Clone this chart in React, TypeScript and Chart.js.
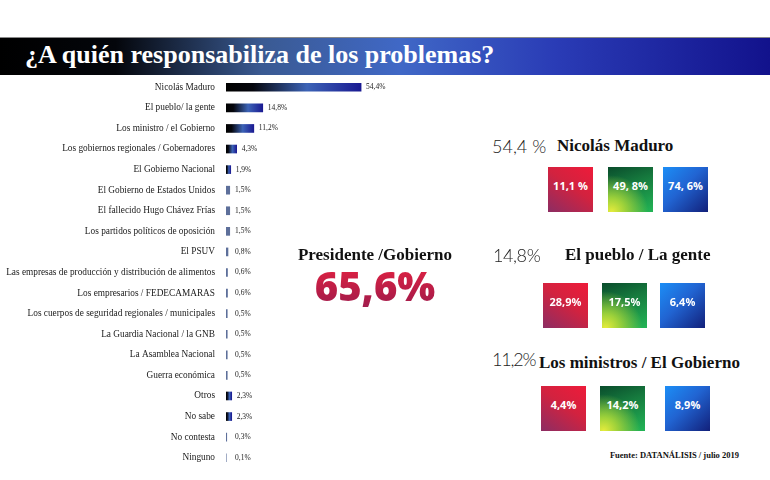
import React, { useEffect, useRef } from "react";
import Chart from "chart.js/auto";

const categories = [
  "Nicolás Maduro",
  "El pueblo/ la gente",
  "Los ministro / el Gobierno",
  "Los gobiernos regionales / Gobernadores",
  "El Gobierno Nacional",
  "El Gobierno de Estados Unidos",
  "El fallecido Hugo Chávez Frías",
  "Los partidos políticos de oposición",
  "El PSUV",
  "Las empresas de producción y distribución de alimentos",
  "Los empresarios / FEDECAMARAS",
  "Los cuerpos de seguridad regionales / municipales",
  "La Guardia Nacional / la GNB",
  "La Asamblea Nacional",
  "Guerra económica",
  "Otros",
  "No sabe",
  "No contesta",
  "Ninguno",
];

const values = [54.4, 14.8, 11.2, 4.3, 1.9, 1.5, 1.5, 1.5, 0.8, 0.6, 0.6, 0.5, 0.5, 0.5, 0.5, 2.3, 2.3, 0.3, 0.1];

const valueLabels = values.map((v) => v.toFixed(1).replace(".", ",") + "%");

const title = "¿A quién responsabiliza de los problemas?";
const centerTitle = "Presidente /Gobierno";
const centerValue = "65,6%";
const source = "Fuente: DATANÁLISIS / julio 2019";

const panelTotals = ["54,4 %", "14,8%", "11,2%"];
const panelTitles = ["Nicolás Maduro", "El pueblo / La gente", "Los ministros / El Gobierno"];
const panelRed = ["11,1 %", "28,9%", "4,4%"];
const panelGreen = ["49, 8%", "17,5%", "14,2%"];
const panelBlue = ["74, 6%", "6,4%", "8,9%"];

const panelLayout = [
  { totalX: 492, totalY: 147, totalSpacing: 0, titleX: 557, titleY: 146, boxTop: 167, boxX: [548, 608, 663] },
  { totalX: 493, totalY: 256, totalSpacing: -0.4, titleX: 565, titleY: 255, boxTop: 283, boxX: [543, 602, 660] },
  { totalX: 492, totalY: 360, totalSpacing: -1.2, titleX: 539, titleY: 363, boxTop: 386, boxX: [541, 600, 665] },
];

const boxBackgrounds = [
  "linear-gradient(215deg, #ee1b3a 0%, #d2223f 45%, #8c2d63 100%)",
  "radial-gradient(circle at 8% 100%, #e6ec3c 0%, #9fd23a 22%, rgba(50,175,80,0) 60%), linear-gradient(160deg, #0a4c2c 0%, #167a3e 40%, #22b556 100%)",
  "linear-gradient(135deg, #1c8ef6 0%, #2164d2 45%, #12207a 100%)",
];

function barColor(ctx: any) {
  const chart = ctx.chart;
  const x = chart.scales && chart.scales.x;
  if (!chart.chartArea || !x) return "#1b2a8f";
  const v = ctx.raw as number;
  const x0 = x.getPixelForValue(0);
  const x1 = x.getPixelForValue(v);
  if (x1 - x0 < 4) return "#5d6f9a";
  const g = chart.ctx.createLinearGradient(x0, 0, x1, 0);
  g.addColorStop(0, "#000000");
  g.addColorStop(0.2, "#05060d");
  g.addColorStop(0.6, "#3c63b6");
  g.addColorStop(1, "#1a1a92");
  return g;
}

export default function App() {
  const ref = useRef<HTMLCanvasElement>(null);

  useEffect(() => {
    document.body.style.margin = "0";
    const canvas = ref.current!;
    const labelPlugin = {
      id: "valueLabels",
      afterDatasetsDraw(chart: any) {
        const { ctx, chartArea } = chart;
        const meta = chart.getDatasetMeta(0);
        ctx.save();
        ctx.font = "7.5px 'Liberation Serif'";
        ctx.fillStyle = "#222";
        ctx.textBaseline = "middle";
        ctx.textAlign = "left";
        meta.data.forEach((bar: any, i: number) => {
          const xx = Math.max(bar.x + 5, chartArea.left + 9);
          ctx.fillText(valueLabels[i], xx, bar.y);
        });
        ctx.restore();
      },
    };
    const chart = new Chart(canvas, {
      type: "bar",
      data: {
        labels: categories,
        datasets: [{ data: values, backgroundColor: barColor as any, barThickness: 8, borderWidth: 0 }],
      },
      options: {
        indexAxis: "y",
        responsive: false,
        animation: false,
        layout: { padding: { top: 77, bottom: 12, left: 0, right: 45 } },
        plugins: { legend: { display: false }, tooltip: { enabled: false } },
        scales: {
          x: { display: false, min: 0, max: 60 },
          y: {
            grid: { display: false, drawTicks: false },
            border: { display: false },
            ticks: {
              autoSkip: false,
              padding: 11,
              color: "#1a1a1a",
              font: { family: "'Liberation Serif'", size: 9.3 },
            },
            afterFit: (s: any) => {
              s.width = 226;
              s.paddingTop = 0;
              s.paddingBottom = 0;
            },
          },
        },
      },
      plugins: [labelPlugin],
    } as any);
    return () => chart.destroy();
  }, []);

  const abs = (o: any) => ({ position: "absolute" as const, whiteSpace: "nowrap" as const, ...o });

  return (
    <div style={{ position: "absolute", left: 0, top: 0, width: 770, height: 480, background: "#fff", overflow: "hidden" }}>
      <canvas ref={ref} width={420} height={480} style={abs({ left: 0, top: 0, width: 420, height: 480 })} />
      <div style={abs({ left: 0, top: 37, width: 770, height: 1, background: "#8a8a8a" })} />
      <div
        style={abs({
          left: 0,
          top: 38,
          width: 770,
          height: 37,
          background:
            "linear-gradient(to right, #000 0%, #04060b 15%, #3a5a92 34%, #4068c6 52%, #2a3cb6 72%, #12128c 100%)",
        })}
      />
      <div
        style={abs({
          left: 25,
          top: 42,
          fontFamily: "'Liberation Serif', serif",
          fontWeight: 700,
          fontSize: 26,
          lineHeight: "26px",
          color: "#fff",
        })}
      >
        {title}
      </div>

      <div
        style={abs({
          left: 290,
          top: 246,
          width: 170,
          textAlign: "center",
          fontFamily: "'Liberation Serif', serif",
          fontWeight: 700,
          fontSize: 17,
          lineHeight: "17px",
          color: "#111",
        })}
      >
        {centerTitle}
      </div>
      <div
        style={abs({
          left: 290,
          top: 266,
          width: 170,
          textAlign: "center",
          fontFamily: "'Open Sans', sans-serif",
          fontWeight: 800,
          fontSize: 40,
          lineHeight: "40px",
        })}
      >
        <span
          style={{
            background: "linear-gradient(to bottom, #ec2340, #b01c48 70%, #9a1e52)",
            WebkitBackgroundClip: "text",
            backgroundClip: "text",
            color: "transparent",
          }}
        >
          {centerValue}
        </span>
      </div>

      {panelLayout.map((p, i) => (
        <React.Fragment key={i}>
          <div
            style={abs({
              left: p.totalX,
              top: p.totalY - 10,
              fontFamily: "Lato, 'Open Sans', sans-serif",
              fontWeight: 300,
              fontSize: 18,
              lineHeight: "18px",
              letterSpacing: p.totalSpacing,
              color: "#222",
            })}
          >
            {panelTotals[i]}
          </div>
          <div
            style={abs({
              left: p.titleX,
              top: p.titleY - 9,
              fontFamily: "'Liberation Serif', serif",
              fontWeight: 700,
              fontSize: 17,
              lineHeight: "17px",
              color: "#111",
            })}
          >
            {panelTitles[i]}
          </div>
          {[panelRed[i], panelGreen[i], panelBlue[i]].map((t, j) => (
            <div
              key={j}
              style={abs({
                left: p.boxX[j],
                top: p.boxTop,
                width: 45,
                height: 45,
                background: boxBackgrounds[j],
              })}
            >
              <div
                style={abs({
                  left: 0,
                  top: 13,
                  width: 45,
                  textAlign: "center",
                  fontFamily: "'Open Sans', sans-serif",
                  fontWeight: 700,
                  fontSize: 11,
                  lineHeight: "11px",
                  color: "#fff",
                })}
              >
                {t}
              </div>
            </div>
          ))}
        </React.Fragment>
      ))}

      <div
        style={abs({
          right: 31,
          top: 451,
          fontFamily: "'Liberation Serif', serif",
          fontWeight: 700,
          fontSize: 8.5,
          lineHeight: "9px",
          color: "#111",
        })}
      >
        {source}
      </div>
    </div>
  );
}
